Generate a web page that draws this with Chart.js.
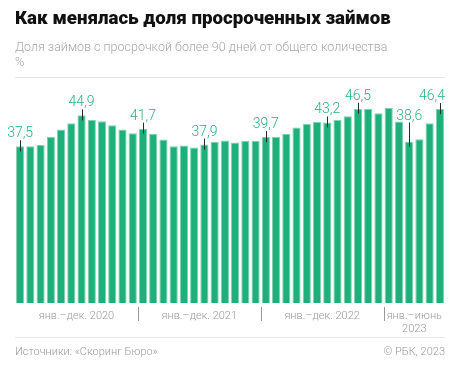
<!DOCTYPE html>
<html lang="ru">
<head>
<meta charset="utf-8">
<script src="https://cdn.jsdelivr.net/npm/chart.js@4"></script>
<style>
    html, body { margin: 0; padding: 0; background: #fff; }
    #wrap { position: relative; width: 460px; height: 371px; overflow: hidden; font-family: Roboto, "Noto Sans", sans-serif; }
    #chart { position: absolute; left: 0; top: 0; }
    .titre { position: absolute; left: 15px; top: 7px; margin: 0; font-size: 18.7px; font-weight: 900; color: #111; letter-spacing: 0; }
    .sous { position: absolute; left: 15px; top: 39px; font-size: 12.5px; font-weight: 300; color: #a8a8a8; line-height: 15px; }
    .ligne { position: absolute; left: 15px; width: 430px; height: 1px; background: #e6e6e6; }
    .source { position: absolute; left: 15px; top: 345px; font-size: 11px; font-weight: 300; color: #9a9a9a; }
    .copy { position: absolute; right: 15px; top: 345px; font-size: 11px; font-weight: 300; color: #9a9a9a; }
</style>
</head>
<body>
<div id="wrap">
    <canvas id="chart" width="460" height="371"></canvas>
    <h1 class="titre">Как менялась доля просроченных займов</h1>
    <div class="sous">Доля займов с просрочкой более 90 дней от общего количества<br>%</div>
    <div class="ligne" style="top:77px"></div>
    <div class="ligne" style="top:337px"></div>
    <div class="source">Источники: «Скоринг Бюро»</div>
    <div class="copy">© РБК, 2023</div>
</div>
<script>
// mois (catégories)
const mois = [
    '01.2020', '02.2020', '03.2020', '04.2020', '05.2020', '06.2020', '07.2020', '08.2020', '09.2020', '10.2020', '11.2020', '12.2020',
    '01.2021', '02.2021', '03.2021', '04.2021', '05.2021', '06.2021', '07.2021', '08.2021', '09.2021', '10.2021', '11.2021', '12.2021',
    '01.2022', '02.2022', '03.2022', '04.2022', '05.2022', '06.2022', '07.2022', '08.2022', '09.2022', '10.2022', '11.2022', '12.2022',
    '01.2023', '02.2023', '03.2023', '04.2023', '05.2023', '06.2023'
];

// part des prêts en retard > 90 jours, %
const valeurs = [
    37.5, 37.5, 37.8, 39.8, 41.5, 43.0, 44.9, 43.8, 43.5, 42.5, 41.5, 40.6,
    41.7, 40.5, 39.1, 37.5, 37.7, 37.2, 37.9, 38.6, 38.9, 38.4, 38.8, 38.8,
    39.7, 39.7, 40.5, 42.0, 42.8, 43.3, 43.2, 43.8, 44.7, 46.5, 46.4, 45.4,
    46.7, 43.4, 38.6, 39.2, 43.0, 46.4
];

// barres annotées
const annotes = [0, 6, 12, 18, 24, 30, 33, 38, 41];

// groupes sous l'axe
const groupes = ['янв.–дек. 2020', 'янв.–дек. 2021', 'янв.–дек. 2022', 'янв.–июнь|2023'];
const tailles = [12, 12, 12, 6];

const VERT = '#1db07a';
const VERT_TEXTE = '#2ab27f';

const annotations = {
    id: 'annotations',
    afterDatasetsDraw(chart) {
        const ctx = chart.ctx;
        const meta = chart.getDatasetMeta(0);
        const y = chart.scales.y;
        const bordDroit = chart.chartArea.right;
        ctx.save();
        ctx.font = '300 14px Roboto, "Noto Sans", sans-serif';
        ctx.textAlign = 'center';
        ctx.textBaseline = 'alphabetic';
        annotes.forEach(i => {
            const top = y.getPixelForValue(valeurs[i]);
            let voisins = Infinity;
            [i - 1, i + 1].forEach(j => {
                if (j >= 0 && j < valeurs.length) voisins = Math.min(voisins, y.getPixelForValue(valeurs[j]));
            });
            const base = Math.min(top - 9, voisins - 2);
            const x = meta.data[i].x;
            const texte = valeurs[i].toFixed(1).replace('.', ',');
            const demi = ctx.measureText(texte).width / 2;
            const xt = Math.min(x, bordDroit - demi);
            ctx.strokeStyle = '#2a2a2a';
            ctx.lineWidth = 1;
            ctx.beginPath();
            ctx.moveTo(Math.round(x) + 0.5, base + 3);
            ctx.lineTo(Math.round(x) + 0.5, top + 5);
            ctx.stroke();
            ctx.fillStyle = VERT_TEXTE;
            ctx.fillText(texte, xt, base);
        });
        ctx.restore();
    }
};

const axeGroupes = {
    id: 'axeGroupes',
    afterDraw(chart) {
        const ctx = chart.ctx;
        const meta = chart.getDatasetMeta(0);
        const pas = meta.data[1].x - meta.data[0].x;
        ctx.save();
        ctx.font = '300 11px Roboto, "Noto Sans", sans-serif';
        ctx.textAlign = 'center';
        ctx.fillStyle = '#9a9a9a';
        ctx.strokeStyle = '#9a9a9a';
        ctx.lineWidth = 1;
        let debut = 0;
        groupes.forEach((g, k) => {
            const fin = debut + tailles[k] - 1;
            const gauche = meta.data[debut].x - pas / 2;
            const droite = meta.data[fin].x + pas / 2;
            const lignes = g.split('|');
            lignes.forEach((l, n) => ctx.fillText(l, (gauche + droite) / 2, 319 + n * 13));
            if (k > 0) {
                ctx.beginPath();
                ctx.moveTo(Math.round(gauche) + 0.5, 307);
                ctx.lineTo(Math.round(gauche) + 0.5, 321);
                ctx.stroke();
            }
            debut = fin + 1;
        });
        ctx.restore();
    }
};

new Chart(document.getElementById('chart'), {
    type: 'bar',
    data: {
        labels: mois,
        datasets: [{
            data: valeurs,
            backgroundColor: VERT,
            borderColor: '#7fd3ae',
            borderWidth: { top: 1, left: 1, right: 1, bottom: 0 },
            borderSkipped: 'bottom',
            categoryPercentage: 1,
            barPercentage: 0.8
        }]
    },
    options: {
        responsive: false,
        animation: false,
        layout: { padding: { left: 15, right: 15, top: 94, bottom: 68 } },
        plugins: {
            legend: { display: false },
            tooltip: { enabled: false }
        },
        scales: {
            x: { display: false },
            y: { display: false, min: 0, max: 50 }
        }
    },
    plugins: [annotations, axeGroupes]
});
</script>
</body>
</html>
